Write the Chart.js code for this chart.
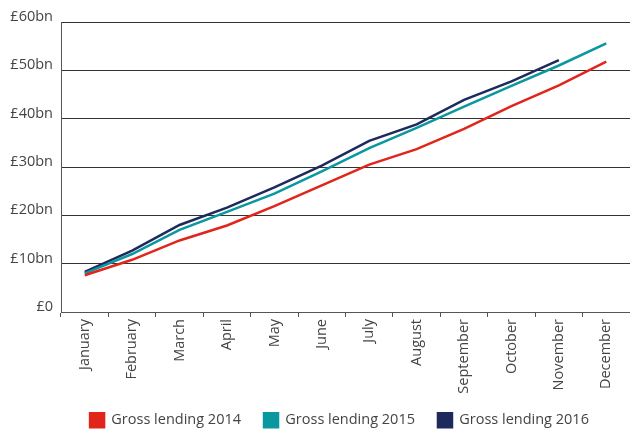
<!DOCTYPE html>
<html>
<head>
<meta charset="utf-8">
<script src="https://cdn.jsdelivr.net/npm/chart.js@4/dist/chart.umd.min.js"></script>
<style>
html,body{margin:0;padding:0;background:#fff;}
#wrap{width:630px;height:432px;position:relative;}
</style>
</head>
<body>
<div id="wrap"><canvas id="c" width="630" height="432"></canvas></div>
<script>
const months = ["January","February","March","April","May","June","July","August","September","October","November","December"];
const lending2014 = [7.6, 10.8, 14.8, 17.9, 21.9, 26.2, 30.5, 33.7, 37.9, 42.6, 46.9, 51.8];
const lending2015 = [8.0, 12.0, 17.0, 20.7, 24.5, 29.1, 33.9, 38.1, 42.5, 46.8, 51.0, 55.6];
const lending2016 = [8.3, 12.7, 18.0, 21.6, 25.8, 30.3, 35.4, 38.8, 43.9, 47.7, 52.1];
const yTicks = ["£0","£10bn","£20bn","£30bn","£40bn","£50bn","£60bn"];

const FONT = "'Open Sans', 'DejaVu Sans', sans-serif";
Chart.defaults.font.family = FONT;
Chart.defaults.color = '#444';

const LEGEND_PAD = 23;
const placeLegend = {
  id: 'placeLegend',
  afterLayout(chart) {
    const lg = chart.legend;
    if (!lg) return;
    lg.top = 413 - LEGEND_PAD;
    lg.bottom = 440;
    lg.height = lg.bottom - lg.top;
    lg.left -= 6;
    lg.right -= 6;
  }
};

new Chart(document.getElementById('c'), {
  type: 'line',
  data: {
    labels: months,
    datasets: [
      {label: 'Gross lending 2014', data: lending2014, borderColor: '#e1251b', backgroundColor: '#e1251b', borderWidth: 2.5, pointRadius: 0, tension: 0},
      {label: 'Gross lending 2015', data: lending2015, borderColor: '#0a979f', backgroundColor: '#0a979f', borderWidth: 2.5, pointRadius: 0, tension: 0},
      {label: 'Gross lending 2016', data: lending2016, borderColor: '#1e2a5c', backgroundColor: '#1e2a5c', borderWidth: 2.5, pointRadius: 0, tension: 0}
    ]
  },
  plugins: [placeLegend],
  options: {
    responsive: false,
    animation: false,
    layout: {padding: {left: 0, right: 0, top: 22, bottom: 0}},
    plugins: {
      tooltip: {enabled: false},
      legend: {
        position: 'bottom',
        fullSize: false,
        maxHeight: 30,
        labels: {
          boxWidth: 14, boxHeight: 14, padding: LEGEND_PAD,
          font: {size: 14.5, family: FONT}, color: '#444'
        }
      }
    },
    scales: {
      x: {
        offset: true,
        afterFit: (s) => { s.height = 90; },
        grid: {display: true, drawOnChartArea: false, drawTicks: true, tickLength: 5, color: '#555', offset: true},
        border: {display: true, color: '#555', width: 1},
        ticks: {maxRotation: 90, minRotation: 90, autoSkip: false, font: {size: 14.5, family: FONT}, color: '#444', padding: 2}
      },
      y: {
        min: 0, max: 60,
        afterFit: (s) => { s.width = 61; },
        grid: {color: '#333', lineWidth: 1, drawTicks: false},
        border: {display: true, color: '#555', width: 1},
        ticks: {
          stepSize: 10, padding: 8,
          font: {size: 14.5, family: FONT, lineHeight: 10 / 14.5}, color: '#444',
          callback: (v) => [yTicks[Math.round(v / 10)], '']
        }
      }
    }
  }
});
</script>
</body>
</html>
